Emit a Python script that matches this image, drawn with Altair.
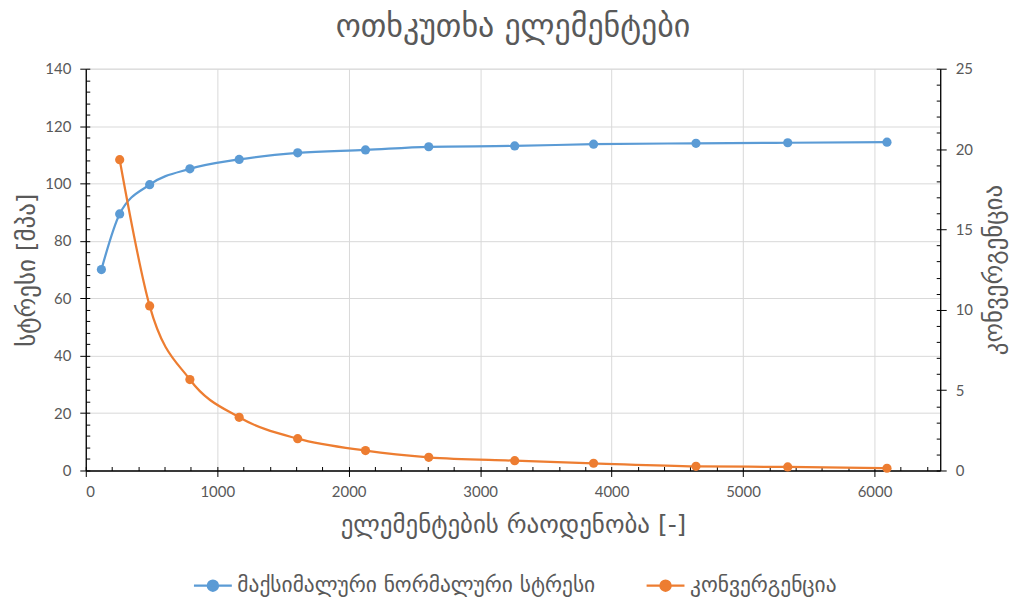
import altair as alt
import pandas as pd

# ---- data ----
stress_x = [119, 258, 486, 792, 1167, 1612, 2128, 2609, 3263, 3863, 4642, 5340, 6095]
stress_y = [70.0, 89.4, 99.6, 105.1, 108.4, 110.7, 111.7, 112.8, 113.1, 113.7, 114.0, 114.2, 114.4]
conv_x = [258, 486, 792, 1167, 1612, 2128, 2609, 3263, 3863, 4642, 5340, 6095]
conv_y = [19.34, 10.24, 5.66, 3.31, 1.98, 1.24, 0.82, 0.61, 0.45, 0.26, 0.22, 0.14]

series_names = ["მაქსიმალური ნორმალური სტრესი", "კონვერგენცია"]
series_colors = ["#5B9BD5", "#ED7D31"]

title_text = "ოთხკუთხა ელემენტები"
x_title = "ელემენტების რაოდენობა [-]"
y_left_title = "სტრესი [მპა]"
y_right_title = "კონვერგენცია"

x_major = [0, 1000, 2000, 3000, 4000, 5000, 6000]
x_minor = list(range(0, 6501, 200))
yl_major = [0, 20, 40, 60, 80, 100, 120, 140]
yl_minor = list(range(0, 141, 4))
yr_major = [0, 5, 10, 15, 20, 25]
yr_minor = list(range(0, 26, 1))

stress = pd.DataFrame({"x": stress_x, "y": stress_y, "s": series_names[0]})
conv = pd.DataFrame({"x": conv_x, "y": conv_y, "s": series_names[1]})

W, H = 857, 403
GRAY = "#595959"
NUMFONT = "Lato"
GEOFONT = "DejaVu Sans"

xscale = alt.Scale(domain=[0, 6500], nice=False, zero=False)
ylscale = alt.Scale(domain=[0, 140], nice=False)
yrscale = alt.Scale(domain=[0, 25], nice=False)
cscale = alt.Scale(domain=series_names, range=series_colors)

legend = alt.Legend(
    title=None,
    orient="none",
    direction="horizontal",
    legendX=107,
    legendY=498,
    symbolType="M-1,0L1,0M0.27,0A0.27,0.27,0,1,1,-0.27,0A0.27,0.27,0,1,1,0.27,0Z",
    symbolSize=1444,
    symbolStrokeWidth=2.25,
    labelFont=GEOFONT,
    labelFontSize=21.5,
    labelColor=GRAY,
    labelLimit=600,
    columnPadding=46,
    labelOffset=4,
)

major_axis_common = dict(
    domainColor="black",
    domainWidth=1.3,
    tickColor="black",
    tickWidth=1,
    tickSize=6,
    format="d",
    labelFont=NUMFONT,
    labelFontSize=15,
    labelColor=GRAY,
    titleFont=GEOFONT,
    titleFontSize=25,
    titleFontWeight="normal",
    titleColor=GRAY,
)

minor_axis_common = dict(
    domain=False,
    labels=False,
    grid=False,
    tickColor="black",
    tickWidth=1,
    tickSize=4,
    title=None,
)

line_kw = dict(interpolate="monotone", strokeWidth=2.25)

blue_line = alt.Chart(stress).mark_line(**line_kw).encode(
    x=alt.X("x:Q", scale=xscale, axis=alt.Axis(
        orient="bottom", values=x_major, grid=True, gridColor="#D9D9D9", gridWidth=1,
        title=x_title, labelPadding=8, titlePadding=13, **major_axis_common)),
    y=alt.Y("y:Q", scale=ylscale, axis=alt.Axis(
        orient="left", values=yl_major, grid=True, gridColor="#D9D9D9", gridWidth=1,
        title=y_left_title, labelPadding=9, titlePadding=5, **major_axis_common)),
    stroke=alt.Stroke("s:N", scale=cscale, legend=legend),
)

blue_pts = alt.Chart(stress).mark_circle(size=85, opacity=1).encode(
    x=alt.X("x:Q", scale=xscale, axis=alt.Axis(orient="top", offset=-H, values=x_minor, **minor_axis_common)),
    y=alt.Y("y:Q", scale=ylscale, axis=alt.Axis(orient="right", offset=-W, values=yl_minor, **minor_axis_common)),
    fill=alt.Fill("s:N", scale=cscale, legend=legend),
)

orange_line = alt.Chart(conv).mark_line(**line_kw).encode(
    x=alt.X("x:Q", scale=xscale, axis=None),
    y=alt.Y("y:Q", scale=yrscale, axis=alt.Axis(
        orient="right", values=yr_major, grid=False, title=y_right_title,
        titleAngle=270, titleBaseline="top", labelPadding=9, titlePadding=9,
        **major_axis_common)),
    stroke=alt.Stroke("s:N", scale=cscale, legend=legend),
)

orange_pts = alt.Chart(conv).mark_circle(size=85, opacity=1).encode(
    x=alt.X("x:Q", scale=xscale, axis=None),
    y=alt.Y("y:Q", scale=yrscale, axis=alt.Axis(orient="left", offset=-W, values=yr_minor, **minor_axis_common)),
    fill=alt.Fill("s:N", scale=cscale, legend=legend),
)

chart = (
    alt.layer(blue_line, blue_pts, orange_line, orange_pts)
    .resolve_scale(y="independent", x="independent")
    .resolve_axis(y="independent", x="independent")
    .properties(
        width=W,
        height=H,
        autosize=alt.AutoSizeParams(type="none"),
        padding={"left": 78, "top": 60, "right": 72, "bottom": 128},
        title=alt.TitleParams(
            text=title_text, font=GEOFONT, fontSize=32, fontWeight="normal",
            color=GRAY, anchor="middle", offset=18,
        ),
    )
    .configure_view(stroke=None)
    .configure(background="white")
)

chart.save("out.html", embed_options={"renderer": "svg", "actions": False})
